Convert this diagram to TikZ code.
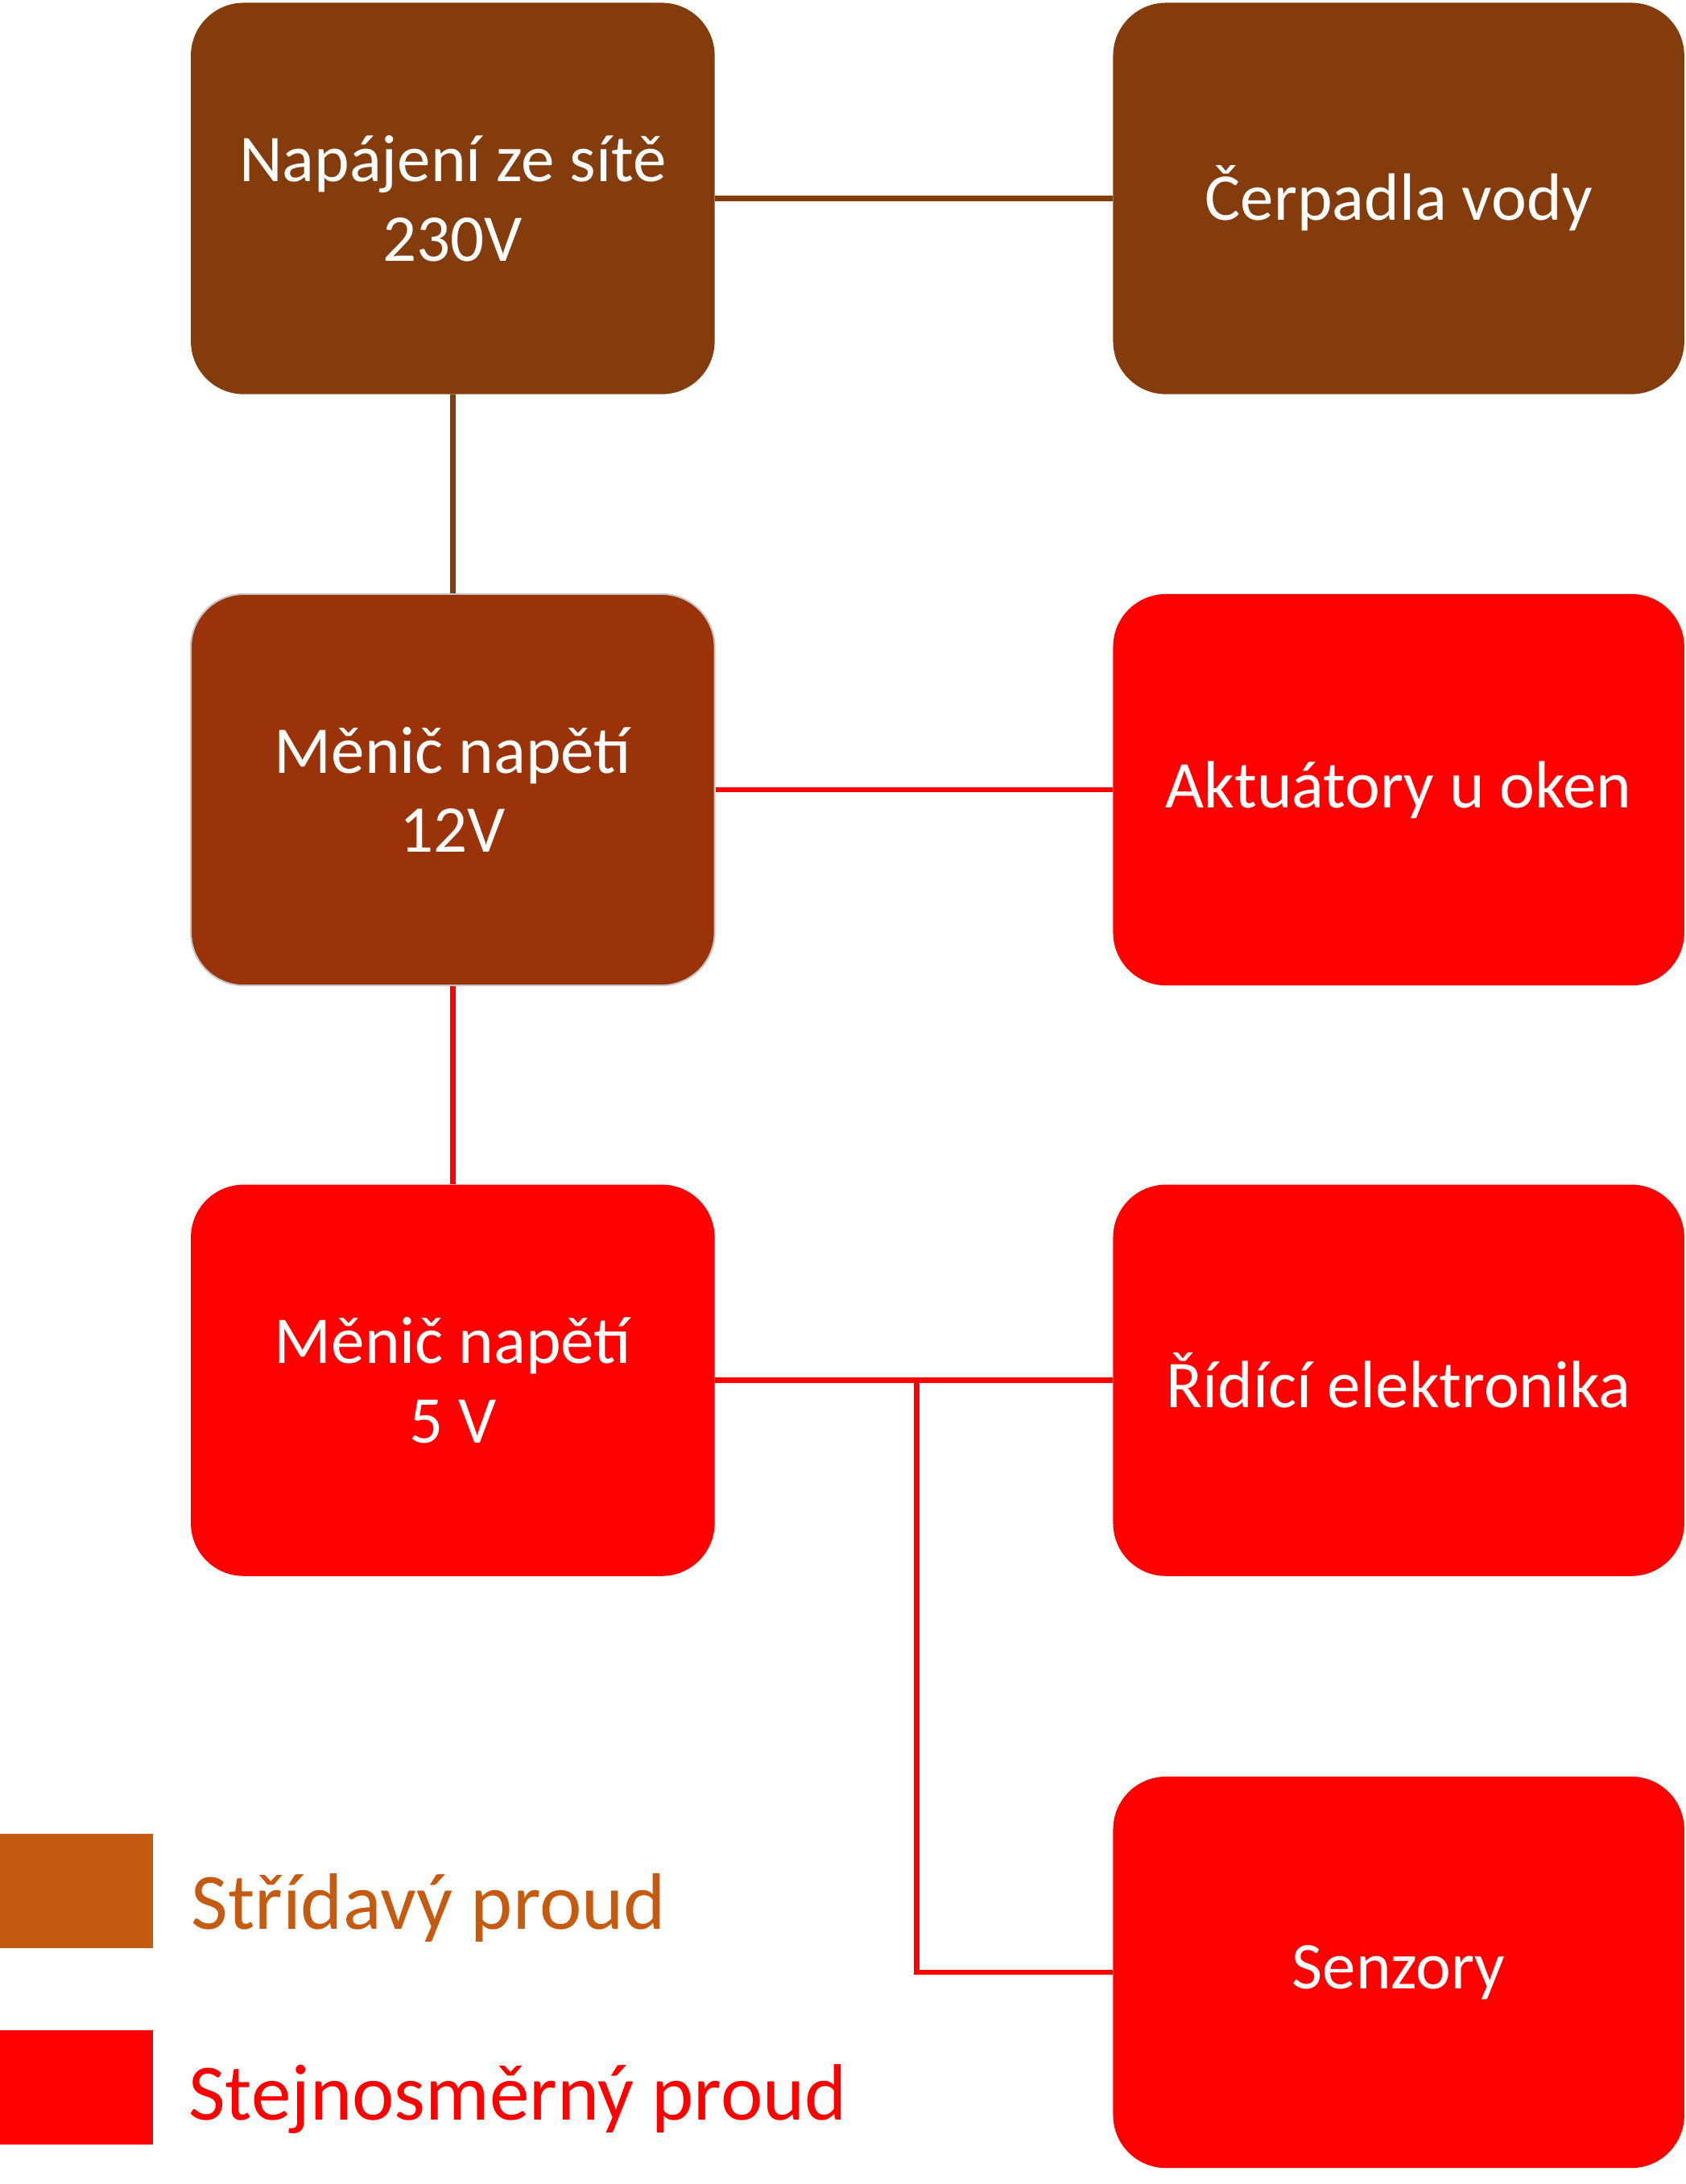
\documentclass[tikz,border=0pt]{standalone}
\usepackage{fontspec}
\setmainfont{Carlito}
\usetikzlibrary{positioning}
\definecolor{acbrown}{HTML}{843C0C}
\definecolor{convbrown}{HTML}{9A320A}
\definecolor{dcred}{HTML}{FF0000}
\definecolor{acorange}{HTML}{C55A11}
\newcommand\LeftX{325}
\newcommand\RightX{1004}
\tikzset{
  block/.style={
    shape = rectangle,
    rounded corners = 19pt,
    minimum height = 140.5pt,
    inner sep = 0pt,
    align = center,
    text = white,
    font = \fontsize{24}{28.5}\selectfont
  },
  leftblock/.style={block, minimum width = 188pt},
  rightblock/.style={block, minimum width = 205pt},
  wire/.style={line width = 1.9pt},
  legendsq/.style={
    shape = rectangle,
    inner sep = 0pt,
    minimum width = 55pt,
    minimum height = 41pt
  },
  legendtxt/.style={
    anchor = base west,
    inner sep = 0pt,
    font = \fontsize{28.7}{34}\selectfont
  }
}

\begin{document}
\begin{tikzpicture}[x=0.5pt,y=-0.5pt]
  \useasboundingbox (0,0) rectangle (1210,1568);

  % left column
  \node[leftblock, fill=acbrown] (site) at (\LeftX,142.5) {Napájení ze sítě\\230V};
  \node[leftblock, fill=convbrown, draw=gray!45, line width=0.6pt] (conv12) at (\LeftX,567) {Měnič napětí\\12V};
  \node[leftblock, fill=dcred] (conv5) at (\LeftX,991) {Měnič napětí\\5 V};

  % right column
  \node[rightblock, fill=acbrown] (pump) at (\RightX,142.5) {Čerpadla vody};
  \node[rightblock, fill=dcred] (act) at (\RightX,567) {Aktuátory u oken};
  \node[rightblock, fill=dcred] (ctrl) at (\RightX,991) {Řídící elektronika};
  \node[rightblock, fill=dcred] (sens) at (\RightX,1416) {Senzory};

  % connections
  \draw[wire, acbrown] (site.east) -- (pump.west);
  \draw[wire, acbrown] (site.south) -- (conv12.north);
  \draw[wire, dcred] (conv12.east) -- (act.west);
  \draw[wire, dcred] (conv12.south) -- (conv5.north);
  \draw[wire, dcred] (conv5.east) -- (ctrl.west);
  \coordinate (split) at (658,991);
  \draw[wire, dcred] (split) |- (sens.west);

  % legend
  \node[legendsq, fill=acorange] (acsq) at (55,1357.5) {};
  \node[legendtxt, text=acorange] (actxt) at (137,1385) {Střídavý proud};
  \node[legendsq, fill=dcred] (dcsq) at (55,1498.5) {};
  \node[legendtxt, text=dcred] (dctxt) at (135,1522) {Stejnosměrný proud};
\end{tikzpicture}
\end{document}
